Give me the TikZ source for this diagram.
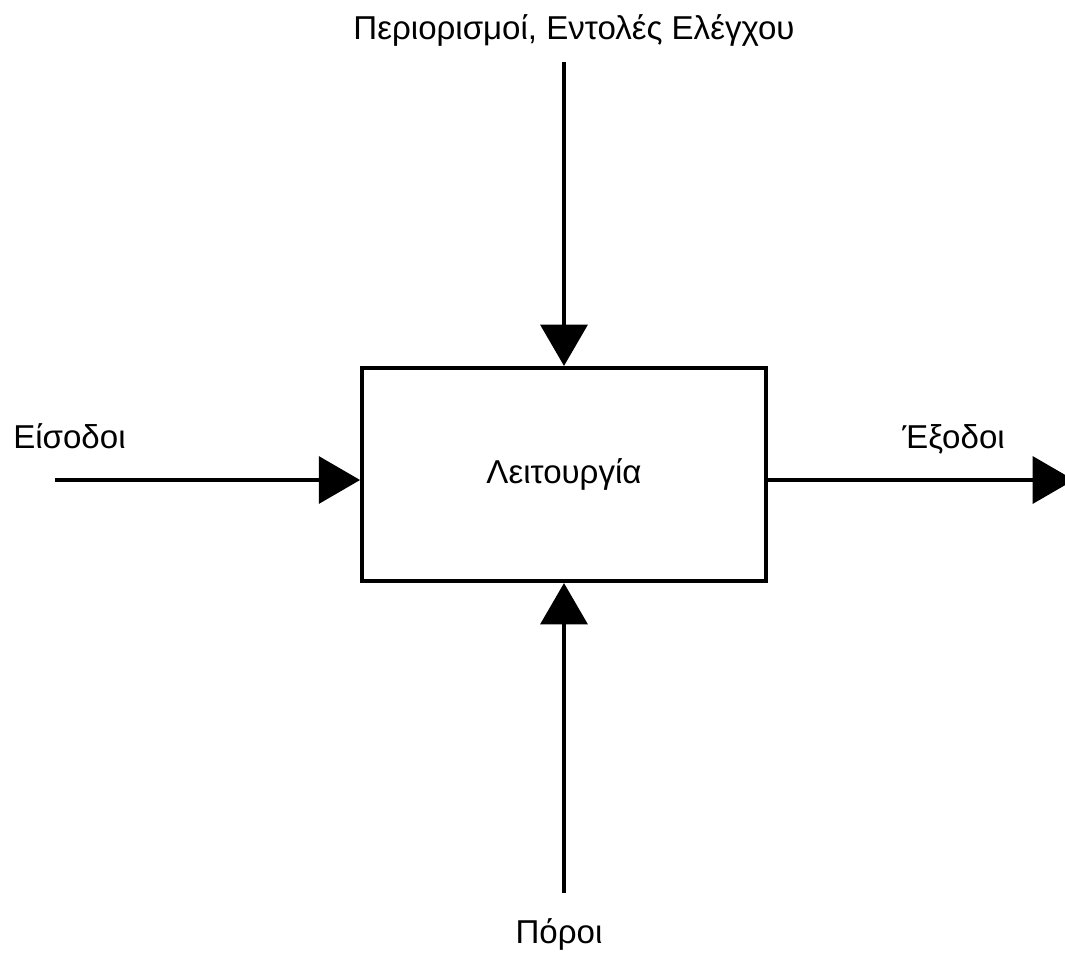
\documentclass[tikz,border=0pt]{standalone}
\usepackage{fontspec}
\setmainfont{Liberation Sans}
\usetikzlibrary{positioning,arrows.meta}

\tikzset{
  flow/.style={line width=3.5pt, -{Triangle[length=31pt,width=35pt]}},
  lbl/.style={inner sep=0pt, font=\fontsize{24.8}{30}\selectfont},
  funcbox/.style={draw, line width=2.8pt, minimum width=303pt, minimum height=160pt,
                  inner sep=0pt, font=\fontsize{24.8}{30}\selectfont}
}

\begin{document}
\begin{tikzpicture}[x=0.75pt,y=-0.75pt]

  \useasboundingbox (0,0) rectangle (1065,954);

  % function box
  \node [funcbox] (func) at (564,474.5) {Λειτουργία};

  % end points
  \coordinate (ctrl) at (564,62);
  \coordinate (in) at (55,480);
  \coordinate (out) at (1074,480);
  \coordinate (mech) at (564,893);

  % labels
  \node [lbl, anchor=base] (ctrllbl) at (574,39) {Περιορισμοί, Εντολές Ελέγχου};
  \node [lbl, anchor=base west] (inlbl) at (13,448) {Είσοδοι};
  \node [lbl, anchor=base east] (outlbl) at (1005,448) {Έξοδοι};
  \node [lbl, anchor=base] (mechlbl) at (559,943) {Πόροι};

  % arrows
  \draw [flow] (ctrl) -- (func.north);
  \draw [flow] (in) -- (in -| func.west);
  \draw [flow] (out -| func.east) -- (out);
  \draw [flow] (mech) -- (func.south);

\end{tikzpicture}
\end{document}
